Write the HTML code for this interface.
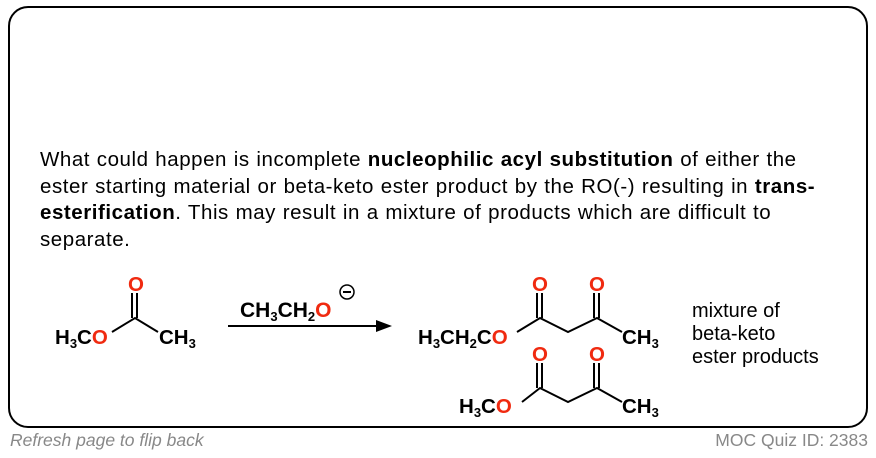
<!DOCTYPE html>
<html><head><style>
body{margin:0;width:876px;height:458px;background:#fff;overflow:hidden;position:relative;font-family:"Liberation Sans",Arial,sans-serif}
.box{position:absolute;left:8px;top:6px;width:856px;height:418px;border:2px solid #000;border-radius:20px}
.p{position:absolute;left:40px;top:147px;width:830px;font-size:20.5px;letter-spacing:0.55px;word-spacing:0.5px;line-height:26.5px;color:#000;white-space:nowrap}
.f{position:absolute;top:430px;font-size:17.5px;color:#888}
</style></head><body>
<div class="box"></div>
<div class="p">What could happen is incomplete <b>nucleophilic acyl substitution</b> of either the<br>ester starting material or beta-keto ester product by the RO(-) resulting in <b>trans-</b><br><b>esterification</b>. This may result in a mixture of products which are difficult to<br>separate.</div>
<svg width="876" height="458" style="position:absolute;left:0;top:0" font-family="Liberation Sans,Arial,sans-serif" font-weight="bold" font-size="20.5">
<g stroke="#000" stroke-width="2" fill="none">
<path d="M112 332 L135 318 L158 332"/><path d="M132 318 V293 M137 318 V293"/>
<path d="M228 326 H378"/>
<path d="M517 332 L540 318 L568 332 L597 318 L622 332"/><path d="M537 318 V293 M542 318 V293 M594 318 V293 M599 318 V293"/>
<path d="M522 402 L540 388 L568 402 L597 388 L622 402"/><path d="M537 388 V363 M542 388 V363 M594 388 V363 M599 388 V363"/>
<circle cx="347" cy="292" r="7" stroke-width="1.5"/><path d="M343 292 H351"/>
</g>
<path d="M376 320 L392 326 L376 332 Z" fill="#000"/>
<text x="55" y="344">H<tspan font-size="13" dy="4">3</tspan><tspan dy="-4">C</tspan><tspan fill="#f02a10">O</tspan></text>
<text x="128" y="291" fill="#f02a10">O</text>
<text x="159" y="344">CH<tspan font-size="13" dy="4">3</tspan></text>
<text x="240" y="317" font-size="21">CH<tspan font-size="13" dy="4">3</tspan><tspan dy="-4">CH</tspan><tspan font-size="13" dy="4">2</tspan><tspan dy="-4" fill="#f02a10">O</tspan></text>
<text x="418" y="344">H<tspan font-size="13" dy="4">3</tspan><tspan dy="-4">CH</tspan><tspan font-size="13" dy="4">2</tspan><tspan dy="-4">C</tspan><tspan fill="#f02a10">O</tspan></text>
<text x="532" y="291" fill="#f02a10">O</text><text x="589" y="291" fill="#f02a10">O</text>
<text x="622" y="344">CH<tspan font-size="13" dy="4">3</tspan></text>
<text x="459" y="413">H<tspan font-size="13" dy="4">3</tspan><tspan dy="-4">C</tspan><tspan fill="#f02a10">O</tspan></text>
<text x="532" y="361" fill="#f02a10">O</text><text x="589" y="361" fill="#f02a10">O</text>
<text x="622" y="413">CH<tspan font-size="13" dy="4">3</tspan></text>
<g font-weight="normal" font-size="20"><text x="692" y="317">mixture of</text><text x="692" y="340">beta-keto</text><text x="692" y="363">ester products</text></g>
</svg>
<div class="f" style="left:10px;font-style:italic">Refresh page to flip back</div>
<div class="f" style="right:8px">MOC Quiz ID: 2383</div>
</body></html>
